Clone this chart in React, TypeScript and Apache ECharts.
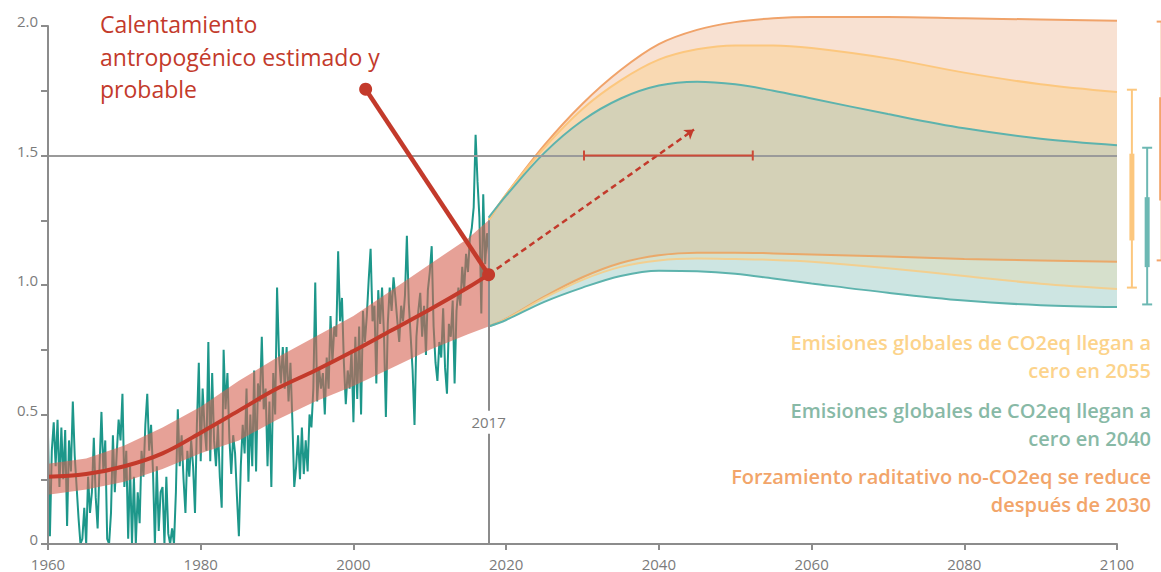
import React, { useEffect, useRef } from "react";
import * as echarts from "echarts";

// ---------- Observed monthly-ish anomaly (4 readings per year, 1960.00 -> 2017.75)
const OBS_START = 1960;
const OBS_STEP = 0.25;
const OBS_TEMP = [
  0.42, 0.03, 0.36, 0.47, 0.30, 0.48, 0.22, 0.45, 0.25, 0.44, 0.07, 0.40,
  0.28, 0.55, 0.34, 0.22, 0.10, 0.00, 0.02, 0.14, 0.00, 0.26, 0.12, 0.20,
  0.41, 0.18, 0.06, 0.30, 0.51, 0.28, 0.40, 0.02, 0.00, 0.12, 0.42, 0.20,
  0.35, 0.48, 0.40, 0.58, 0.22, 0.36, 0.02, 0.30, 0.00, 0.26, 0.00, 0.20,
  0.08, 0.36, 0.26, 0.46, 0.58, 0.36, 0.46, 0.28, 0.00, 0.30, 0.05, 0.20,
  0.22, 0.00, 0.26, 0.04, 0.00, 0.06, 0.00, 0.20, 0.52, 0.30, 0.42, 0.25,
  0.12, 0.36, 0.26, 0.40, 0.30, 0.12, 0.46, 0.70, 0.32, 0.60, 0.45, 0.36,
  0.78, 0.32, 0.66, 0.40, 0.30, 0.46, 0.26, 0.14, 0.75, 0.52, 0.66, 0.41,
  0.27, 0.42, 0.35, 0.18, 0.03, 0.30, 0.46, 0.35, 0.60, 0.24, 0.50, 0.30,
  0.67, 0.28, 0.62, 0.55, 0.80, 0.52, 0.60, 0.30, 0.55, 0.22, 0.66, 0.50,
  0.99, 0.73, 0.62, 0.76, 0.60, 0.76, 0.55, 0.70, 0.48, 0.22, 0.30, 0.42,
  0.25, 0.45, 0.27, 0.40, 0.28, 0.50, 0.45, 0.60, 1.01, 0.55, 0.68, 0.60,
  0.66, 0.50, 0.72, 0.60, 0.88, 0.70, 0.84, 0.80, 1.13, 0.86, 0.95, 0.70,
  0.54, 0.67, 0.60, 0.75, 0.47, 0.80, 0.56, 0.84, 0.50, 0.90, 0.78, 0.88,
  1.02, 1.14, 0.86, 0.92, 0.62, 0.98, 0.85, 0.99, 0.81, 0.49, 0.85, 0.99,
  0.90, 1.03, 0.95, 0.86, 0.78, 0.92, 0.86, 0.96, 1.19, 0.93, 0.80, 0.67,
  0.46, 0.80, 0.90, 0.97, 0.80, 0.92, 0.73, 0.98, 1.05, 1.15, 0.84, 0.70,
  0.63, 0.78, 0.72, 0.91, 0.68, 0.58, 0.85, 0.80, 0.94, 0.62, 0.90, 0.99,
  0.92, 1.07, 0.98, 1.12, 1.05, 1.18, 1.22, 1.30, 1.58, 1.40, 1.26, 0.89,
  1.35, 1.08, 1.20, 1.12,
];

// ---------- Estimated human-induced warming and likely range
const TREND_YEARS = [1960, 1965, 1970, 1975, 1980, 1985, 1990, 1995, 2000, 2005, 2010, 2015, 2017.7];
const TREND_MID = [0.26, 0.27, 0.30, 0.35, 0.43, 0.515, 0.6, 0.67, 0.745, 0.825, 0.905, 0.99, 1.04];
const TREND_HIGH = [0.31, 0.33, 0.38, 0.45, 0.53, 0.63, 0.72, 0.8, 0.88, 0.98, 1.08, 1.18, 1.25];
const TREND_LOW = [0.19, 0.21, 0.24, 0.29, 0.35, 0.4, 0.48, 0.55, 0.61, 0.68, 0.75, 0.81, 0.84];

// ---------- Scenario ranges
const SCEN_YEARS = [2017.7, 2020, 2025, 2030, 2035, 2040, 2045, 2050, 2055, 2060, 2070, 2080, 2090, 2100];
const ORANGE_HIGH = [1.25, 1.35, 1.54, 1.7, 1.83, 1.93, 1.985, 2.015, 2.03, 2.035, 2.035, 2.03, 2.025, 2.02];
const YELLOW_HIGH = [1.25, 1.35, 1.53, 1.68, 1.79, 1.87, 1.91, 1.925, 1.925, 1.915, 1.875, 1.82, 1.775, 1.745];
const TEAL_HIGH = [1.26, 1.345, 1.51, 1.635, 1.72, 1.77, 1.785, 1.775, 1.75, 1.72, 1.66, 1.605, 1.565, 1.54];
const ORANGE_LOW = [0.84, 0.87, 0.955, 1.03, 1.085, 1.115, 1.125, 1.125, 1.122, 1.118, 1.11, 1.1, 1.095, 1.09];
const YELLOW_LOW = [0.84, 0.868, 0.95, 1.02, 1.07, 1.095, 1.102, 1.1, 1.097, 1.09, 1.065, 1.035, 1.005, 0.985];
const TEAL_LOW = [0.84, 0.865, 0.935, 0.99, 1.035, 1.055, 1.053, 1.043, 1.025, 1.006, 0.97, 0.94, 0.922, 0.915];

// ---------- Annotations (data coordinates)
const POINTER_X = [2001.6, 2017.7];
const POINTER_Y = [1.756, 1.04];
const ARROW_FROM = [2017.7, 1.04];
const ARROW_TO = [2044.6, 1.6];
const LEVEL_15 = 1.5;
const RANGE_15 = [2030.2, 2052.3];
const YEAR_MARK = 2017.7;
const YEAR_MARK_TOP = 1.25;
const YEAR_LABEL_Y = 0.47;

// ---------- Right-hand 2100 ranges (yellow, teal, orange)
const BAR_YEARS = [2101.95, 2103.95, 2105.85];
const BAR_LOW = [0.99, 0.925, 1.095];
const BAR_HIGH = [1.754, 1.53, 2.017];
const BAR_QLOW = [1.172, 1.069, 1.326];
const BAR_QHIGH = [1.507, 1.339, 1.725];

// ---------- Styles
const FONT = '"Open Sans", "Noto Sans", sans-serif';
const AXIS_GRAY = "#8c8c8c";
const LABEL_GRAY = "#7b7b7b";
const RED = "#c33a2b";
const TEAL_OBS = "#1d978a";
const BAR_COLORS = ["#fcc77e", "#6cb8b3", "#f3a56b"];

const pairs = (xs: number[], ys: number[]) => xs.map((x, i) => [x, ys[i]]);

function buildOption(): any {
  const obsData = OBS_TEMP.map((v, i) => [OBS_START + i * OBS_STEP, v]);

  const areaSeries = (ys: number[], fill: string) => ({
    type: "line",
    data: pairs(SCEN_YEARS, ys),
    smooth: 0.35,
    symbol: "none",
    clip: false,
    silent: true,
    z: 3,
    lineStyle: { width: 0, opacity: 0 },
    areaStyle: { color: fill, opacity: 1 },
  });

  const lineSeries = (ys: number[], color: string, extra: any = {}) => ({
    type: "line",
    data: pairs(SCEN_YEARS, ys),
    smooth: 0.35,
    symbol: "none",
    clip: false,
    silent: true,
    z: 4,
    lineStyle: { width: 2, color },
    ...extra,
  });

  const legendText = (text: string, y: number, fill: string) => ({
    type: "text",
    x: 1151,
    y,
    z: 20,
    silent: true,
    style: {
      text,
      fill,
      fontSize: 20,
      fontWeight: 600,
      fontFamily: FONT,
      lineHeight: 28,
      align: "right",
      verticalAlign: "middle",
    },
  });

  return {
    animation: false,
    backgroundColor: "#ffffff",
    grid: { left: 48, right: 44, top: 26, bottom: 28 },
    xAxis: {
      type: "value",
      min: 1960,
      max: 2100,
      interval: 20,
      z: 7,
      axisLine: { lineStyle: { color: AXIS_GRAY, width: 2 } },
      axisTick: { show: true, length: 6, lineStyle: { color: AXIS_GRAY, width: 2 } },
      axisLabel: {
        color: LABEL_GRAY,
        fontSize: 15,
        fontFamily: FONT,
        margin: 12,
        formatter: (v: number) => String(v),
      },
      splitLine: { show: false },
    },
    yAxis: {
      type: "value",
      min: 0,
      max: 2,
      interval: 0.25,
      z: 7,
      axisLine: { show: true, lineStyle: { color: AXIS_GRAY, width: 2 } },
      axisTick: { show: true, length: 7, lineStyle: { color: AXIS_GRAY, width: 2 } },
      axisLabel: {
        color: LABEL_GRAY,
        fontSize: 15,
        fontFamily: FONT,
        margin: 10,
        verticalAlign: "bottom",
        lineHeight: 10,
        formatter: (v: number) => {
          const twice = v * 2;
          if (Math.abs(twice - Math.round(twice)) > 1e-6) return "";
          return v === 0 ? "0" : v.toFixed(1);
        },
      },
      splitLine: { show: false },
    },
    series: [
      // observed temperatures
      {
        type: "line",
        data: obsData,
        symbol: "none",
        silent: true,
        z: 1,
        lineStyle: { color: TEAL_OBS, width: 2 },
      },
      // likely range of human-induced warming
      {
        type: "custom",
        data: [[TREND_YEARS[0], TREND_LOW[0]]],
        silent: true,
        z: 2,
        renderItem: (_params: any, api: any) => {
          const pts: number[][] = [];
          TREND_YEARS.forEach((x, i) => pts.push(api.coord([x, TREND_HIGH[i]])));
          for (let i = TREND_YEARS.length - 1; i >= 0; i--) pts.push(api.coord([TREND_YEARS[i], TREND_LOW[i]]));
          return { type: "polygon", shape: { points: pts }, style: { fill: "rgba(213,98,81,0.6)" } };
        },
      },
      // scenario regions (opaque, painted top-down)
      areaSeries(ORANGE_HIGH, "#f8e1d2"),
      areaSeries(YELLOW_HIGH, "#f9d9b2"),
      areaSeries(TEAL_HIGH, "#d4d1b7"),
      areaSeries(ORANGE_LOW, "#d6e0cc"),
      areaSeries(YELLOW_LOW, "#cde5e2"),
      areaSeries(TEAL_LOW, "#ffffff"),
      // scenario boundary lines
      lineSeries(ORANGE_HIGH, "#f0a36a"),
      lineSeries(YELLOW_HIGH, "#fcc77e"),
      lineSeries(TEAL_HIGH, "#5db3ad"),
      lineSeries(ORANGE_LOW, "#eaa96a"),
      lineSeries(YELLOW_LOW, "#f2cf90"),
      lineSeries(TEAL_LOW, "#5db3ad", {
        markLine: {
          silent: true,
          symbol: ["none", "none"],
          label: { show: false },
          data: [
            { yAxis: LEVEL_15, lineStyle: { color: "#9a9a9a", width: 2, type: "solid" } },
            [
              { coord: [YEAR_MARK, 0], lineStyle: { color: AXIS_GRAY, width: 2, type: "solid" } },
              { coord: [YEAR_MARK, YEAR_MARK_TOP] },
            ],
          ],
        },
        markPoint: {
          silent: true,
          data: [
            {
              coord: [YEAR_MARK, YEAR_LABEL_Y],
              symbol: "rect",
              symbolSize: [1, 1],
              itemStyle: { color: "rgba(0,0,0,0)" },
              label: {
                show: true,
                position: "inside",
                formatter: "2017",
                color: LABEL_GRAY,
                fontSize: 15,
                fontFamily: FONT,
                backgroundColor: "#ffffff",
                padding: [4, 3],
              },
            },
          ],
        },
      }),
      // best estimate of human-induced warming
      {
        type: "line",
        data: pairs(TREND_YEARS, TREND_MID),
        smooth: 0.4,
        symbol: "none",
        silent: true,
        z: 5,
        lineStyle: { color: RED, width: 4 },
      },
      // annotation pointer + dashed extrapolation arrow
      {
        type: "line",
        data: pairs(POINTER_X, POINTER_Y),
        symbol: "circle",
        symbolSize: 13,
        showSymbol: true,
        silent: true,
        z: 6,
        itemStyle: { color: RED },
        lineStyle: { color: RED, width: 4.5 },
        markLine: {
          silent: true,
          symbol: ["none", "arrow"],
          symbolSize: 9,
          label: { show: false },
          lineStyle: { color: RED, width: 2.5, type: [6, 4] },
          data: [[{ coord: ARROW_FROM }, { coord: ARROW_TO }]],
        },
      },
      // 1.5 °C crossing range
      {
        type: "custom",
        data: [[RANGE_15[0], RANGE_15[1], LEVEL_15]],
        encode: { x: [0, 1], y: 2 },
        silent: true,
        z: 6,
        renderItem: (_params: any, api: any) => {
          const a = api.coord([api.value(0), api.value(2)]);
          const b = api.coord([api.value(1), api.value(2)]);
          const st = { stroke: "#cc4a37", lineWidth: 2 };
          return {
            type: "group",
            children: [
              { type: "line", shape: { x1: a[0], y1: a[1], x2: b[0], y2: b[1] }, style: st },
              { type: "line", shape: { x1: a[0], y1: a[1] - 5, x2: a[0], y2: a[1] + 5 }, style: st },
              { type: "line", shape: { x1: b[0], y1: b[1] - 5, x2: b[0], y2: b[1] + 5 }, style: st },
            ],
          };
        },
      },
      // 2100 ranges at the right edge
      {
        type: "custom",
        data: BAR_YEARS.map((x, i) => [x, BAR_LOW[i], BAR_HIGH[i], BAR_QLOW[i], BAR_QHIGH[i]]),
        encode: { x: 0, y: [1, 2, 3, 4] },
        silent: true,
        clip: false,
        z: 6,
        renderItem: (params: any, api: any) => {
          const color = BAR_COLORS[params.dataIndex];
          const x = api.value(0);
          const lo = api.coord([x, api.value(1)]);
          const hi = api.coord([x, api.value(2)]);
          const qlo = api.coord([x, api.value(3)]);
          const qhi = api.coord([x, api.value(4)]);
          const thin = { stroke: color, lineWidth: 2 };
          return {
            type: "group",
            children: [
              { type: "line", shape: { x1: lo[0], y1: lo[1], x2: hi[0], y2: hi[1] }, style: thin },
              { type: "line", shape: { x1: hi[0] - 5, y1: hi[1], x2: hi[0] + 5, y2: hi[1] }, style: thin },
              { type: "line", shape: { x1: lo[0] - 5, y1: lo[1], x2: lo[0] + 5, y2: lo[1] }, style: thin },
              { type: "line", shape: { x1: qlo[0], y1: qlo[1], x2: qhi[0], y2: qhi[1] }, style: { stroke: color, lineWidth: 5 } },
            ],
          };
        },
      },
    ],
    graphic: [
      {
        type: "text",
        x: 100,
        y: 8,
        z: 20,
        silent: true,
        style: {
          text: "Calentamiento\nantropogénico estimado y\nprobable",
          fill: RED,
          fontSize: 23,
          fontFamily: FONT,
          lineHeight: 32.5,
        },
      },
      legendText("Emisiones globales de CO2eq llegan a\ncero en 2055", 356, "#fcd38b"),
      legendText("Emisiones globales de CO2eq llegan a\ncero en 2040", 424, "#88b9a6"),
      legendText("Forzamiento raditativo no-CO2eq se reduce\ndespués de 2030", 490, "#f2a56a"),
    ],
  };
}

export default function App() {
  const ref = useRef<HTMLDivElement>(null);
  useEffect(() => {
    if (!ref.current) return;
    const chart = echarts.init(ref.current, null, { renderer: "svg" });
    chart.setOption(buildOption());
    return () => chart.dispose();
  }, []);
  return (
    <div
      ref={ref}
      style={{ position: "fixed", left: 0, top: 0, width: 1161, height: 572, background: "#ffffff" }}
    />
  );
}
